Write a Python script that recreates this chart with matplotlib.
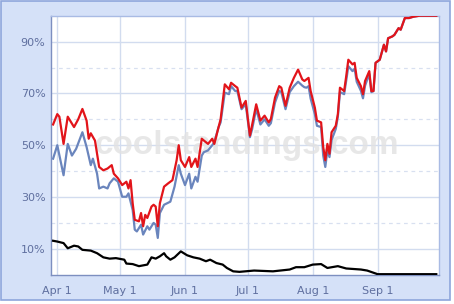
import matplotlib
matplotlib.use("Agg")
import matplotlib.pyplot as plt
import matplotlib.patches as patches
import pandas as pd
import numpy as np

# ---- data (days since Apr 1, percent) ----
red_days = [-2, -1, 0, 1, 3, 5, 8, 10, 12, 14, 15, 16, 18, 20, 22, 24, 26, 27, 29, 31,
            33, 34, 35, 36, 37, 39, 40, 41, 42, 43, 45, 46, 47, 48, 49, 51, 53, 55, 57, 58,
            59, 61, 63, 64, 66, 67, 69, 70, 72, 74, 75, 77, 78, 80, 82, 83, 85, 86, 88, 90,
            92, 93, 95, 97, 99, 101, 102, 104, 106, 107, 109, 111, 113, 115, 117, 118, 119, 120, 121, 123,
            124, 126, 127, 128, 129, 130, 131, 133, 134, 135, 137, 138, 139, 141, 142, 143, 145, 146, 147, 149,
            150, 151, 152, 153, 154, 156, 157, 158, 160, 161, 163, 164, 166, 168, 170, 173, 181]
red_vals = [58, 60, 62, 61, 50.5, 61, 57, 60, 64, 59.5, 52.5, 54.6, 51.8, 41.6, 40.3, 41, 42.3, 39, 37.2, 34.6,
            35.9, 33.3, 36.5, 27.6, 21.2, 20.6, 23.8, 18.7, 23.1, 21.9, 26.3, 27, 26.3, 18.7, 27.6, 34, 35.3, 36.5, 44.2, 50,
            44.2, 41.6, 45.4, 41.6, 44.8, 41.6, 52.5, 51.8, 50.5, 52.5, 50.5, 56.9, 60, 73.5, 71.6, 74.1, 72.8, 72.2, 64.5, 67.1,
            53.7, 57.6, 65.8, 59.5, 61.4, 58.8, 60.1, 68.4, 72.8, 72.2, 65.2, 72.2, 76, 79.2, 75.4, 74.8, 75.4, 76, 70.9, 64.5,
            59.5, 58.8, 49.3, 44.2, 50.5, 46.7, 55, 57.5, 62, 72.2, 70.9, 76.7, 83, 81.2, 81.8, 76, 72.8, 69.7, 74.8, 78.6,
            70.9, 70.9, 81.8, 82.4, 83, 88.8, 86.2, 91.3, 92, 92.6, 95.2, 94.6, 99.1, 99.1, 99.6, 100, 100]

blue_days = [-2, 0, 3, 5, 7, 9, 12, 14, 16, 17, 19, 20, 22, 24, 25, 27, 29, 31, 33, 34,
             36, 37, 38, 40, 41, 43, 44, 46, 47, 48, 49, 51, 54, 56, 58, 59, 61, 63, 64, 66,
             67, 69, 70, 72, 74, 75, 77, 78, 80, 82, 83, 85, 86, 88, 90, 92, 93, 95, 97, 99,
             101, 102, 104, 106, 107, 109, 111, 113, 115, 117, 118, 119, 120, 121, 123, 124, 126, 127, 128, 129,
             130, 131, 133, 134, 135, 137, 138, 139, 141, 142, 143, 145, 146, 147, 149, 150, 151, 152, 153, 154,
             156, 157, 158, 160, 161, 163, 164, 166, 168, 170, 173, 181]
blue_vals = [44.8, 50, 38.4, 50.5, 46, 48.6, 55, 49.3, 42.3, 44.8, 39, 33.3, 34, 33.3, 35.3, 37.2, 35.9, 30.1, 30.1, 31.4,
             25, 17.4, 16.7, 19.3, 15.5, 18.7, 17.4, 20, 19.3, 14.2, 23.8, 27, 28.2, 34, 42.3, 39, 34.6, 39, 33.3, 37.8,
             35.9, 46, 47.3, 48, 50, 51.2, 56.9, 58.8, 70.3, 69.7, 72.8, 70.9, 70.9, 63.9, 65.8, 53.1, 56, 64, 58, 60,
             57.5, 58.5, 66.5, 71, 70.5, 63.9, 70.5, 72.8, 74.5, 73, 72.4, 72.2, 72.8, 68, 62, 57.5, 57, 46, 41.6, 48,
             45.4, 52, 56.3, 61, 70.5, 69.7, 75, 80.5, 78.6, 79.5, 74.5, 71, 68.1, 73, 77.5, 70.5, 70.9, 81.8, 82.4, 83,
             88.8, 86.2, 91.3, 92, 92.6, 95.2, 94.6, 99.1, 99.1, 99.6, 100, 100]

black_days = [-2, 0, 3, 5, 8, 10, 12, 16, 19, 22, 25, 28, 32, 33, 36, 39, 43, 45, 47, 49,
              51, 52, 54, 56, 59, 62, 65, 68, 71, 73, 76, 79, 81, 84, 87, 94, 103, 111, 114, 118,
              122, 126, 129, 134, 138, 145, 148, 153, 181]
black_vals = [13.1, 12.8, 12.2, 10.2, 11.2, 10.9, 9.6, 9.3, 8.3, 6.7, 6.2, 6.4, 5.8, 4.3, 4.1, 3.3, 3.9, 6.7, 6.2, 7.1,
              8.3, 7.1, 5.8, 6.7, 9.0, 7.5, 6.7, 6.2, 5.2, 5.8, 4.5, 3.9, 2.6, 1.3, 1.1, 1.6, 1.3, 2.0, 2.9, 2.9,
              3.9, 4.1, 2.6, 3.3, 2.4, 2.0, 1.6, 0.2, 0.2]

month_ticks = ["2008-04-01", "2008-05-01", "2008-06-01", "2008-07-01", "2008-08-01", "2008-09-01"]
month_labels = ["Apr 1", "May 1", "Jun 1", "Jul 1", "Aug 1", "Sep 1"]
y_major = [10, 30, 50, 70, 90]
y_minor = [20, 40, 60, 80]

base = pd.Timestamp("2008-04-01")
def to_dates(days):
    return [base + pd.Timedelta(days=d) for d in days]

W, H = 454, 304
fig = plt.figure(figsize=(W / 100, H / 100), dpi=100)
fig.patch.set_facecolor("white")
fig.patches.append(patches.Rectangle((0.5 / W, 1 - 299.5 / H), 449.5 / W, 299 / H,
                                     transform=fig.transFigure, facecolor="#d5e1f8",
                                     edgecolor="#8ea6dc", linewidth=1.2, zorder=-10))

ax = fig.add_axes([51 / W, (H - 274.7) / H, (439 - 51) / W, (274.7 - 15.7) / H])
ax.set_facecolor("white")

ax.text(0.505, 0.50, "coolstandings.com", transform=ax.transAxes, ha="center", va="center",
        fontsize=24, fontweight="bold", family="Liberation Sans", color="#e2e2e2", alpha=0.8, zorder=1)

ax.plot(to_dates(blue_days), blue_vals, color="#6a85bd", lw=1.6, zorder=3)
ax.plot(to_dates(red_days), red_vals, color="#e2141a", lw=1.6, zorder=4)
ax.plot(to_dates(black_days), black_vals, color="black", lw=1.6, zorder=5)

ax.set_xlim(base - pd.Timedelta(days=3.0), base + pd.Timedelta(days=182.3))
ax.set_ylim(0, 100)

ax.set_xticks(pd.to_datetime(month_ticks))
ax.set_xticklabels(month_labels)
ax.set_yticks(y_major)
ax.set_yticklabels([f"{v}%" for v in y_major])
ax.set_yticks(y_minor, minor=True)

ax.grid(True, which="major", color="#d2dcef", lw=1, zorder=0)
ax.grid(True, which="minor", axis="y", color="#d8e0f0", lw=0.9, ls=(0, (3, 3)), zorder=0)
ax.set_axisbelow(True)

ax.tick_params(which="both", length=0, colors="#5f6f9f", labelsize=8)
ax.tick_params(axis="y", pad=4)
ax.tick_params(axis="x", pad=8)
for s in ["left", "bottom"]:
    ax.spines[s].set_color("#7d8fc0")
for s in ["top", "right"]:
    ax.spines[s].set_color("#a9bbe4")
for s in ax.spines.values():
    s.set_linewidth(1)

fig.savefig("out.png", dpi=100, facecolor=fig.get_facecolor())
